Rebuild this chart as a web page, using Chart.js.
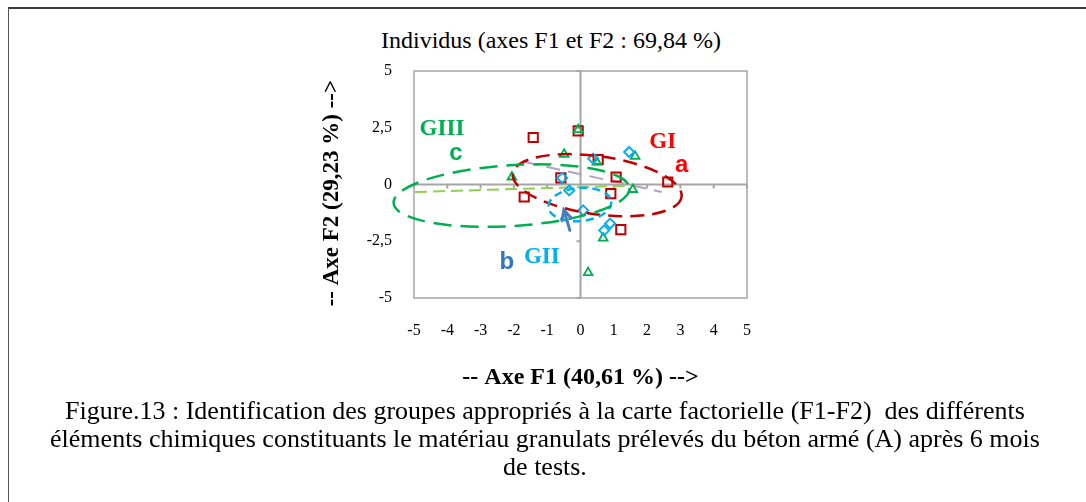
<!DOCTYPE html>
<html>
<head>
<meta charset="utf-8">
<script src="https://cdn.jsdelivr.net/npm/chart.js@4.4.1/dist/chart.umd.min.js"></script>
<style>
  html, body { margin: 0; padding: 0; background: #fff; }
  #page { position: relative; width: 1086px; height: 502px; overflow: hidden; }
  #frame { position: absolute; left: 8px; top: 7px; right: 0; bottom: 0;
           border-top: 2px solid #3a3a3a; border-left: 1.5px solid #555; }
  #chart { position: absolute; left: 0; top: 0; }
  #title { position: absolute; left: 351px; width: 400px; top: 25px; text-align: center;
           font-family: 'Liberation Serif', 'Times New Roman', serif; font-size: 24px;
           line-height: 30px; color: #000; white-space: nowrap; }
  #caption { position: absolute; left: 8px; width: 1074px; top: 397px;
             font-family: 'Liberation Serif', 'Times New Roman', serif; font-size: 26px;
             line-height: 28px; text-align: center; color: #000; white-space: nowrap; }
</style>
</head>
<body>
<div id="page">
  <div id="frame"></div>
  <div id="title">Individus (axes F1 et F2 : 69,84 %)</div>
  <canvas id="chart" width="1086" height="400"></canvas>
  <div id="caption">Figure.13 : Identification des groupes appropriés à la carte factorielle (F1-F2)&nbsp; des différents<br>éléments chimiques constituants le matériau granulats prélevés du béton armé (A) après 6 mois<br>de tests.</div>
</div>
<script>
const squaresX = [-1.42, -0.07, 0.53, -0.59, 1.07, 2.62, -1.69, 0.91, 1.21];
const squaresY = [2.07, 2.36, 1.10, 0.29, 0.33, 0.11, -0.55, -0.40, -1.99];
const trianglesX = [-0.07, -0.49, 0.49, 1.64, -2.06, 1.57, 0.68, 0.23];
const trianglesY = [2.42, 1.33, 0.99, 1.24, 0.33, -0.22, -2.36, -3.88];
const diamondsX = [-0.55, -0.34, 0.38, 1.46, 0.08, 0.89, 0.71];
const diamondsY = [0.29, -0.26, 1.14, 1.43, -1.14, -1.72, -2.02];

// dashed guide lines
const greenLineX = [-4.97, 1.52];
const greenLineY = [-0.33, -0.05];
const lilacLineX = [-1.67, 2.44];
const lilacLineY = [0.99, -0.33];

// group ellipses (GI, GII, GIII) in axis units, tilt in degrees (right end up = positive)
const groupNames = ['GI', 'GII', 'GIII'];
const ellipseCx = [0.50, -0.02, -2.07];
const ellipseCy = [-0.03, -0.88, -0.49];
const ellipseRx = [2.56, 0.95, 3.55];
const ellipseRy = [1.28, 0.73, 1.34];
const ellipseTilt = [-7.9, 5, 3.6];
const ellipseColors = ['#C00000', '#00B0F0', '#00B050'];
const ellipseDash = [[14, 8], [8, 5], [18, 9]];

// arrow pointing at GII
const arrowX = [-0.32, -0.50];
const arrowY = [-2.02, -1.12];

// annotation texts
const labelText = ['GIII', 'c', 'GI', 'a', 'b', 'GII'];
const labelX = [-4.16, -3.74, 2.47, 3.04, -2.21, -1.16];
const labelY = [2.46, 1.37, 1.87, 0.85, -3.41, -3.19];
const labelColor = ['#00B050', '#00B050', '#FF0000', '#FF0000', '#2E75C6', '#00B0F0'];
const labelSerif = [true, false, true, false, false, true];

const xTicks = [-5, -4, -3, -2, -1, 0, 1, 2, 3, 4, 5];
const yTicks = [-5, -2.5, 0, 2.5, 5];

const serif = "'Liberation Serif', 'Times New Roman', serif";
const sans = "'Liberation Sans', Arial, sans-serif";

function pts(xs, ys){ return xs.map((v, i) => ({x: v, y: ys[i]})); }

const overlay = {
  id: 'overlay',
  beforeDatasetsDraw(chart){
    const {ctx, chartArea: a, scales: {x, y}} = chart;
    ctx.save();
    ctx.strokeStyle = '#a6a6a6';
    ctx.lineWidth = 1.5;
    ctx.strokeRect(a.left, a.top, a.right - a.left, a.bottom - a.top);
    const x0 = x.getPixelForValue(0), y0 = y.getPixelForValue(0);
    ctx.lineWidth = 2;
    ctx.beginPath();
    ctx.moveTo(a.left, y0); ctx.lineTo(a.right, y0);
    ctx.moveTo(x0, a.top); ctx.lineTo(x0, a.bottom);
    x.ticks.forEach(t => { const px = x.getPixelForValue(t.value); ctx.moveTo(px, y0); ctx.lineTo(px, y0 + 4); });
    y.ticks.forEach(t => { const py = y.getPixelForValue(t.value); ctx.moveTo(x0 - 4, py); ctx.lineTo(x0, py); });
    ctx.stroke();
    ctx.restore();
  },
  afterDatasetsDraw(chart){
    const {ctx, scales: {x, y}} = chart;
    ctx.save();
    // ellipses
    for(let i = 0; i < groupNames.length; i++){
      const cx = x.getPixelForValue(ellipseCx[i]), cy = y.getPixelForValue(ellipseCy[i]);
      const rx = Math.abs(x.getPixelForValue(ellipseCx[i] + ellipseRx[i]) - cx);
      const ry = Math.abs(y.getPixelForValue(ellipseCy[i] + ellipseRy[i]) - cy);
      ctx.beginPath();
      ctx.setLineDash(ellipseDash[i]);
      ctx.strokeStyle = ellipseColors[i];
      ctx.lineWidth = 2.5;
      ctx.ellipse(cx, cy, rx, ry, -ellipseTilt[i] * Math.PI / 180, 0, Math.PI * 2);
      ctx.stroke();
    }
    ctx.setLineDash([]);
    // arrow
    const tx = x.getPixelForValue(arrowX[0]), ty = y.getPixelForValue(arrowY[0]);
    const hx = x.getPixelForValue(arrowX[1]), hy = y.getPixelForValue(arrowY[1]);
    const ang = Math.atan2(hy - ty, hx - tx);
    ctx.strokeStyle = '#4A7EBB';
    ctx.lineWidth = 3;
    ctx.lineCap = 'round';
    ctx.beginPath();
    ctx.moveTo(tx, ty); ctx.lineTo(hx, hy);
    ctx.moveTo(hx - 11 * Math.cos(ang - 0.45), hy - 11 * Math.sin(ang - 0.45));
    ctx.lineTo(hx, hy);
    ctx.lineTo(hx - 11 * Math.cos(ang + 0.45), hy - 11 * Math.sin(ang + 0.45));
    ctx.stroke();
    // labels
    ctx.textAlign = 'center';
    ctx.textBaseline = 'middle';
    labelText.forEach((t, i) => {
      ctx.font = labelSerif[i] ? 'bold 23px ' + serif : 'bold 24px ' + sans;
      ctx.fillStyle = labelColor[i];
      ctx.fillText(t, x.getPixelForValue(labelX[i]), y.getPixelForValue(labelY[i]));
    });
    ctx.restore();
  }
};

new Chart(document.getElementById('chart'), {
  type: 'scatter',
  data: {
    datasets: [
      { label: 'diamonds', data: pts(diamondsX, diamondsY), order: 0, pointStyle: 'rectRot',
        pointRadius: 5, borderColor: '#00B0F0', backgroundColor: 'rgba(0,0,0,0)', borderWidth: 2 },
      { label: 'triangles', data: pts(trianglesX, trianglesY), order: 1, pointStyle: 'triangle',
        pointRadius: 5, borderColor: '#00B050', backgroundColor: 'rgba(0,0,0,0)', borderWidth: 1.8 },
      { label: 'squares', data: pts(squaresX, squaresY), order: 2, pointStyle: 'rect',
        pointRadius: 6.5, borderColor: '#C00000', backgroundColor: 'rgba(0,0,0,0)', borderWidth: 2 },
      { label: 'green line', data: pts(greenLineX, greenLineY), order: 3, showLine: true, pointRadius: 0,
        borderColor: '#92D050', borderWidth: 2, borderDash: [12, 6] },
      { label: 'lilac line', data: pts(lilacLineX, lilacLineY), order: 4, showLine: true, pointRadius: 0,
        borderColor: '#B1A0C7', borderWidth: 2, borderDash: [14, 8] }
    ]
  },
  options: {
    responsive: false,
    animation: false,
    devicePixelRatio: 1,
    layout: { padding: { left: 300, right: 339, top: 71, bottom: 2 } },
    plugins: {
      legend: { display: false },
      tooltip: { enabled: false },
      title: { display: false }
    },
    scales: {
      x: {
        min: -5, max: 5,
        afterFit: s => { s.height = 100; },
        afterBuildTicks: s => { s.ticks = xTicks.map(v => ({value: v})); },
        grid: { display: false, drawTicks: false }, border: { display: false },
        ticks: { color: '#000', padding: 23, font: { family: serif, size: 16 }, maxRotation: 0 },
        title: { display: true, text: '-- Axe F1 (40,61 %) -->', color: '#000',
                 font: { family: serif, size: 24, weight: 'bold' }, padding: { top: 0, bottom: 6 } }
      },
      y: {
        min: -5, max: 5,
        afterFit: s => { s.width = 114; },
        afterBuildTicks: s => { s.ticks = yTicks.map(v => ({value: v})); },
        grid: { display: false, drawTicks: false }, border: { display: false },
        ticks: { color: '#000', padding: 22, font: { family: serif, size: 16 },
                 callback: v => String(v).replace('.', ',') },
        title: { display: true, text: '-- Axe F2 (29,23 %) -->\u00A0\u00A0\u00A0', color: '#000',
                 font: { family: serif, size: 23, weight: 'bold' }, padding: { top: 18, bottom: 0 } }
      }
    }
  },
  plugins: [overlay]
});
</script>
</body>
</html>
